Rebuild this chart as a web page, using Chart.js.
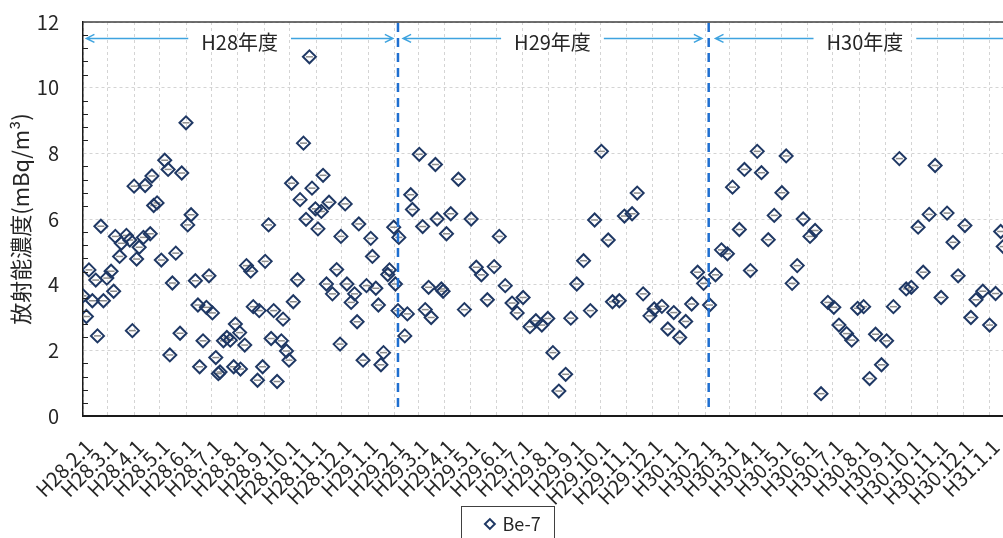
<!DOCTYPE html>
<html lang="ja">
<head>
<meta charset="utf-8">
<script src="https://cdn.jsdelivr.net/npm/chart.js@4.4.1/dist/chart.umd.min.js"></script>
<style>
  html, body { margin: 0; padding: 0; background: #fff; overflow: hidden; }
  #wrap { width: 1003px; height: 538px; overflow: hidden; }
</style>
</head>
<body>
<div id="wrap"><canvas id="be7Chart" width="1037" height="543"></canvas></div>
<script>
// 目盛ラベル（毎月1日）
const tickLabels = [
  "H28.2.1", "H28.3.1", "H28.4.1", "H28.5.1", "H28.6.1", "H28.7.1", "H28.8.1", "H28.9.1",
  "H28.10.1", "H28.11.1", "H28.12.1",
  "H29.1.1", "H29.2.1", "H29.3.1", "H29.4.1", "H29.5.1", "H29.6.1", "H29.7.1", "H29.8.1",
  "H29.9.1", "H29.10.1", "H29.11.1", "H29.12.1",
  "H30.1.1", "H30.2.1", "H30.3.1", "H30.4.1", "H30.5.1", "H30.6.1", "H30.7.1", "H30.8.1",
  "H30.9.1", "H30.10.1", "H30.11.1", "H30.12.1",
  "H31.1.1"
];

// 採取日（H28.2.1 からの日数）
const sampleDay = [
  0, 4, 7, 11, 15, 17, 21, 24, 28, 33, 36, 38, 43, 45, 51, 55, 58, 60, 63, 66,
  71, 73, 79, 81, 83, 87, 92, 96, 100, 102, 105, 109, 114, 116, 121, 123, 127, 132, 135, 137,
  141, 145, 148, 152, 156, 159, 161, 165, 169, 173, 177, 179, 184, 185, 190, 192, 197, 200, 205, 207,
  211, 214, 218, 221, 224, 228, 233, 235, 239, 242, 245, 247, 252, 255, 259, 262, 266, 269, 273, 276,
  280, 282, 286, 289, 293, 298, 302, 303, 308, 310, 315, 319, 322, 324, 329, 333, 338, 340, 344, 347,
  350, 353, 358, 360, 365, 367, 370, 371,
  378, 381, 385, 387, 395, 399, 402, 406, 409, 414, 416, 421, 423, 427, 432, 441, 448, 456, 462, 468,
  475, 483, 489, 496, 504, 510, 517, 525, 532, 539, 546, 552, 559, 567, 573, 580, 588, 596, 601, 609,
  617, 622, 630, 636, 645, 651, 658, 666, 671, 680, 687, 694, 701, 708, 715, 722, 729, 736, 743,
  750, 757, 763, 771, 777, 784, 792, 797, 805, 812, 821, 826, 833, 839, 846, 854, 860, 867, 875, 882,
  888, 897, 903, 910, 917, 924, 931, 938, 944, 952, 959, 967, 973, 981, 987, 994, 1001, 1008, 1015, 1022,
  1028, 1036, 1043, 1049, 1057, 1065, 1072, 1078, 1081
];

// Be-7 放射能濃度 (mBq/m3)
const be7 = [
  3.66, 3.03, 4.45, 3.51, 4.14, 2.44, 5.78, 3.51, 4.20, 4.41, 3.80, 5.47, 4.86, 5.26, 5.50, 5.36, 2.60, 7.00, 4.78, 5.14,
  5.44, 7.02, 5.55, 7.31, 6.41, 6.49, 4.75, 7.79, 7.51, 1.86, 4.05, 4.96, 2.52, 7.40, 8.93, 5.82, 6.13, 4.12, 3.38, 1.50,
  2.29, 3.31, 4.27, 3.14, 1.78, 1.29, 1.34, 2.29, 2.39, 2.31, 1.50, 2.80, 2.54, 1.43, 2.16, 4.58, 4.41, 3.33, 1.09, 3.21,
  1.50, 4.71, 5.82, 2.36, 3.21, 1.05, 2.29, 2.95, 1.98, 1.70, 7.09, 3.48, 4.15, 6.59, 8.31, 5.99, 10.94, 6.94, 6.31, 5.70,
  6.23, 7.33, 4.02, 6.51, 3.72, 4.46, 2.19, 5.47, 6.46, 4.02, 3.46, 3.72, 2.87, 5.85, 1.70, 3.97, 5.41, 4.86, 3.89, 3.38,
  1.56, 1.93, 4.31, 4.45, 5.75, 4.02, 3.21, 5.44,
  2.44, 3.11, 6.74, 6.29, 7.97, 5.77, 3.24, 3.92, 3.00, 7.66, 6.00, 3.87, 3.80, 5.55, 6.16, 7.21, 3.24, 6.00, 4.53, 4.30,
  3.54, 4.55, 5.47, 3.97, 3.44, 3.14, 3.61, 2.72, 2.90, 2.77, 2.97, 1.93, 0.76, 1.27, 2.98, 4.02, 4.73, 3.21, 5.97, 8.06,
  5.36, 3.48, 3.51, 6.09, 6.16, 6.79, 3.72, 3.05, 3.26, 3.34, 2.65, 3.15, 2.39, 2.88, 3.41, 4.38, 4.04, 3.38, 4.30,
  5.06, 4.94, 6.97, 5.68, 7.51, 4.43, 8.06, 7.41, 5.37, 6.11, 6.80, 7.92, 4.04, 4.58, 6.00, 5.47, 5.65, 0.68, 3.46, 3.31,
  2.77, 2.51, 2.31, 3.28, 3.33, 1.14, 2.49, 1.56, 2.29, 3.33, 7.84, 3.87, 3.92, 5.75, 4.38, 6.14, 7.63, 3.61, 6.18, 5.29,
  4.27, 5.80, 3.00, 3.54, 3.80, 2.77, 3.73, 5.62, 5.16
];

// 年度区分
const fiscalLabels = ["H28年度", "H29年度", "H30年度"];
const fiscalSpans = [[4, 364], [376, 727], [743, 1094]];
const fiscalBreaks = [370, 735];

// 目盛ラベル → H28.2.1 からの日数
const baseTime = Date.UTC(2016, 1, 1);
const tickDays = tickLabels.map(function (label) {
  const parts = label.slice(1).split(".");
  const t = Date.UTC(1988 + Number(parts[0]), Number(parts[1]) - 1, Number(parts[2]));
  return Math.round((t - baseTime) / 86400000);
});

const points = sampleDay.map((d, i) => ({ x: d, y: be7[i] }));

Chart.defaults.font.family = "'Noto Sans CJK JP', 'Noto Sans', sans-serif";
Chart.defaults.color = "#262626";

// 枠線と内向きの補助目盛
const framePlugin = {
  id: "frame",
  afterDraw(chart) {
    const { ctx, chartArea, scales } = chart;
    ctx.save();
    ctx.strokeStyle = "#404040";
    ctx.lineWidth = 1.5;
    ctx.beginPath();
    ctx.moveTo(chartArea.left, chartArea.top);
    ctx.lineTo(chartArea.right, chartArea.top);
    ctx.lineTo(chartArea.right, chartArea.bottom);
    ctx.stroke();

    ctx.strokeStyle = "#222";
    ctx.lineWidth = 1;
    ctx.beginPath();
    for (let i = 1; i < 30; i++) {
      if (i % 5 === 0) continue;
      const py = Math.round(scales.y.getPixelForValue(i * 0.4)) + 0.5;
      ctx.moveTo(chartArea.left, py);
      ctx.lineTo(chartArea.left + 5, py);
    }
    ctx.stroke();
    ctx.restore();
  },
};

// 年度区切りの破線と矢印
const fiscalPlugin = {
  id: "fiscal",
  afterDraw(chart) {
    const { ctx, chartArea, scales: { x, y } } = chart;
    ctx.save();
    ctx.strokeStyle = "#1f6fd0";
    ctx.lineWidth = 2.5;
    ctx.setLineDash([9, 6]);
    fiscalBreaks.forEach((d) => {
      const px = x.getPixelForValue(d);
      ctx.beginPath();
      ctx.moveTo(px, chartArea.top + 1);
      ctx.lineTo(px, chartArea.bottom - 6);
      ctx.stroke();
    });

    ctx.setLineDash([]);
    ctx.font = "20px 'Noto Sans CJK JP'";
    const ay = y.getPixelForValue(11.5);
    fiscalSpans.forEach(([d1, d2], i) => {
      const x1 = x.getPixelForValue(d1);
      const x2 = x.getPixelForValue(d2);
      const mid = (x1 + x2) / 2;
      const half = ctx.measureText(fiscalLabels[i]).width / 2 + 13;
      ctx.strokeStyle = "#3ea3df";
      ctx.lineWidth = 1.5;
      ctx.beginPath();
      ctx.moveTo(x1, ay);
      ctx.lineTo(mid - half, ay);
      ctx.moveTo(mid + half, ay);
      ctx.lineTo(x2, ay);
      ctx.moveTo(x1 + 8, ay - 4);
      ctx.lineTo(x1, ay);
      ctx.lineTo(x1 + 8, ay + 4);
      ctx.moveTo(x2 - 8, ay - 4);
      ctx.lineTo(x2, ay);
      ctx.lineTo(x2 - 8, ay + 4);
      ctx.stroke();
      ctx.fillStyle = "#262626";
      ctx.textAlign = "center";
      ctx.textBaseline = "middle";
      ctx.fillText(fiscalLabels[i], mid, ay + 4);
    });
    ctx.restore();
  },
};

// 凡例の枠
const legendBoxPlugin = {
  id: "legendBox",
  afterDraw(chart) {
    const box = chart.legend.legendHitBoxes[0];
    if (!box) return;
    const ctx = chart.ctx;
    const cy = box.top + box.height / 2;
    ctx.save();
    ctx.strokeStyle = "#404040";
    ctx.lineWidth = 1;
    ctx.strokeRect(Math.round(box.left - 25) + 0.5, Math.round(cy - 18) + 0.5, Math.round(box.width + 39), 36);
    ctx.restore();
  },
};

new Chart(document.getElementById("be7Chart"), {
  type: "scatter",
  data: {
    datasets: [
      {
        label: "Be-7",
        data: points,
        pointStyle: "rectRot",
        pointRadius: 6.5,
        pointHoverRadius: 6.5,
        borderColor: "#1f3864",
        backgroundColor: "rgba(255,255,255,0)",
        borderWidth: 2,
      },
      {
        label: "mark",
        data: points,
        pointStyle: "line",
        pointRadius: 3.5,
        borderColor: "#8c8c8c",
        borderWidth: 1.5,
      },
    ],
  },
  options: {
    responsive: false,
    animation: false,
    events: [],
    layout: { padding: { top: 22, right: 21, left: 11, bottom: 0 } },
    plugins: {
      tooltip: { enabled: false },
      legend: {
        position: "bottom",
        labels: {
          filter: (item) => item.datasetIndex === 0,
          usePointStyle: true,
          boxHeight: 7,
          boxWidth: 7,
          padding: 10,
          font: { size: 18 },
          color: "#262626",
        },
      },
    },
    scales: {
      x: {
        type: "linear",
        min: 0,
        max: 1096,
        afterBuildTicks: (scale) => {
          scale.ticks = tickDays.map((v) => ({ value: v }));
        },
        afterFit: (scale) => {
          scale.height = 89;
        },
        ticks: {
          autoSkip: false,
          minRotation: 45,
          maxRotation: 45,
          padding: 19,
          labelOffset: 6,
          font: { size: 20 },
          color: "#262626",
          callback: (value, index) => tickLabels[index],
        },
        grid: { color: "#d4d4d4", lineWidth: 1, drawTicks: false },
        border: { color: "#1a1a1a", width: 2, dash: [3, 3] },
      },
      y: {
        min: 0,
        max: 12,
        afterFit: (scale) => {
          scale.width = 72;
        },
        ticks: { stepSize: 2, padding: 2, font: { size: 20 }, color: "#262626" },
        grid: { color: "#d4d4d4", lineWidth: 1, drawTicks: true, tickLength: 22, tickColor: "rgba(0,0,0,0)" },
        border: { color: "#1a1a1a", width: 1.5, dash: [3, 3] },
        title: {
          display: true,
          text: "放射能濃度(mBq/m³)",
          font: { size: 22 },
          color: "#262626",
          padding: { top: -4, bottom: 0 },
        },
      },
    },
  },
  plugins: [framePlugin, fiscalPlugin, legendBoxPlugin],
});
</script>
</body>
</html>
